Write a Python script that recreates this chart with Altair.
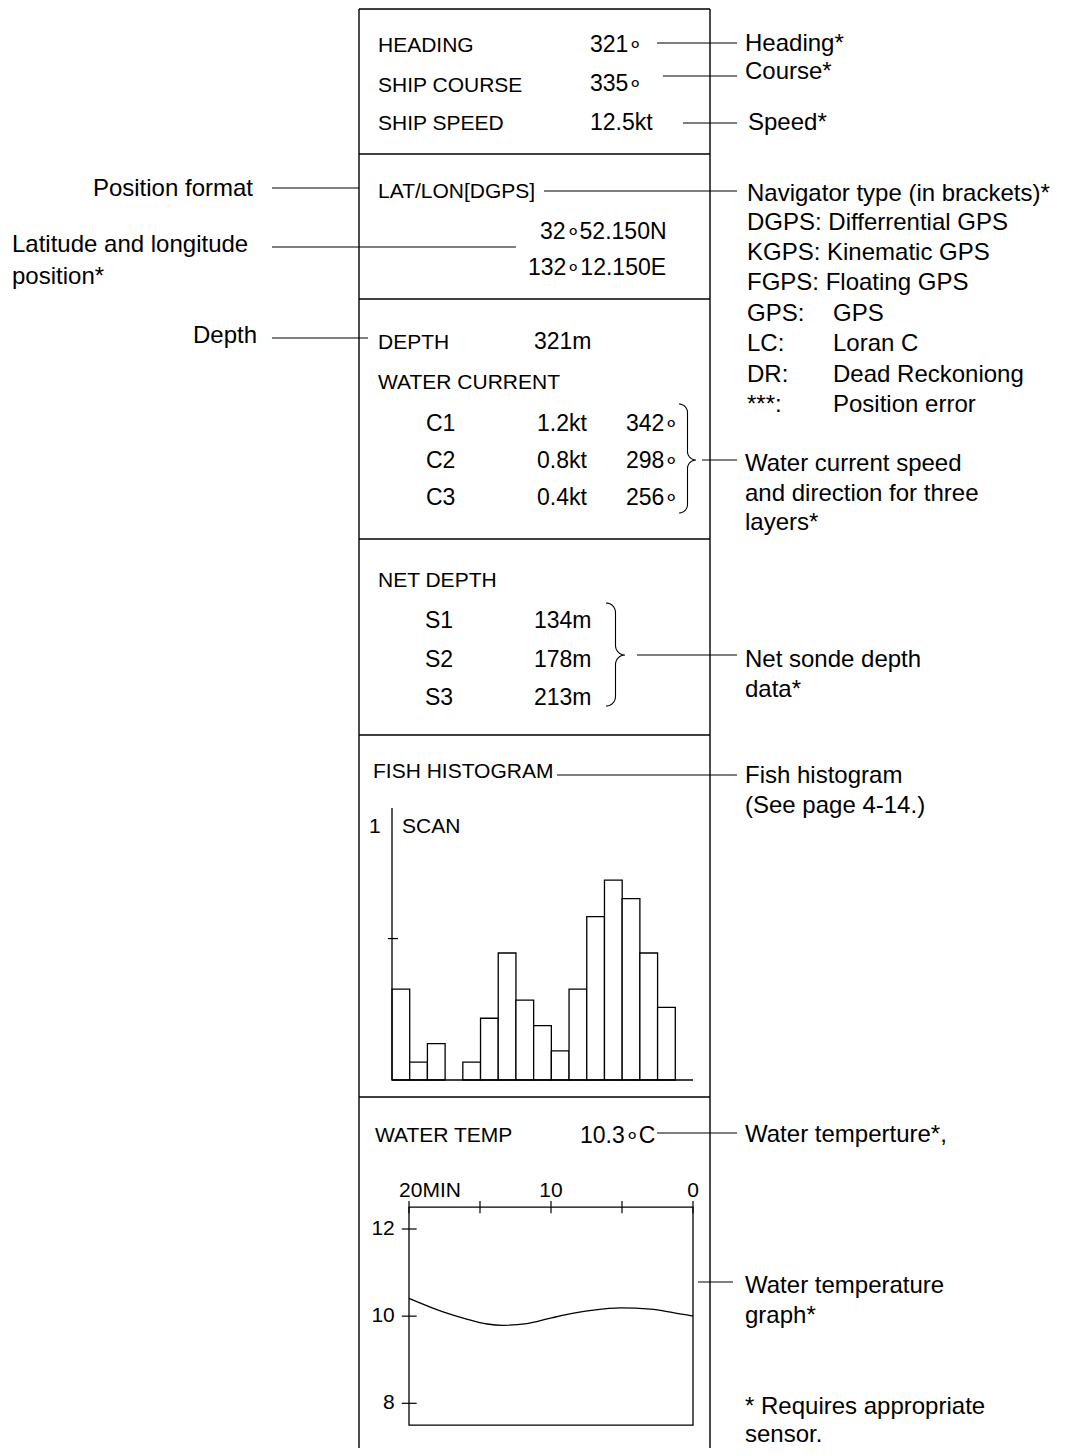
import math
import altair as alt
import pandas as pd

# ---------------- data ----------------
DEG = "∘"
heading_deg = 321
course_deg = 335
speed_kt = 12.5
lat_text = f"32{DEG}52.150N"
lon_text = f"132{DEG}12.150E"
nav_type = "DGPS"
depth_m = 321
current_layers = ["C1", "C2", "C3"]
current_speed_kt = [1.2, 0.8, 0.4]
current_dir_deg = [342, 298, 256]
net_sondes = ["S1", "S2", "S3"]
net_depth_m = [134, 178, 213]
hist_values = [0.334, 0.066, 0.134, 0.0, 0.066, 0.227, 0.467, 0.294,
               0.200, 0.107, 0.334, 0.601, 0.735, 0.667, 0.467, 0.267]
hist_tick = 0.52
water_temp_c = 10.3
temp_minutes_ago = [20, 17.6, 16, 14.5, 13.4, 11.7, 10.1, 8.2, 7.0, 5.1, 3.0, 1.4, 0]
temp_values = [10.41, 10.10, 9.94, 9.82, 9.79, 9.83, 9.95, 10.08, 10.14, 10.19, 10.16, 10.08, 10.00]
time_ticks = [20, 15, 10, 5, 0]
time_labels = ["20MIN", "10", "0"]
time_label_pos = [20.7, 10, 0]
temp_ticks = [12, 10, 8]

nav_types = [("DGPS:", "Differrential GPS"), ("KGPS:", "Kinematic GPS"),
             ("FGPS:", "Floating GPS"), ("GPS:", "GPS"), ("LC:", "Loran C"),
             ("DR:", "Dead Reckoniong"), ("***:", "Position error")]

# ---------------- layout ----------------
W, H = 1052, 1440
M = 8
INK = "#000000"
PANEL = "Liberation Sans, Arial"
NOTE = "Liberation Sans, Arial"
LBL = 21     # panel labels
VAL = 23     # panel values

PX = alt.Scale(domain=[M, M + W], range=[0, W], nice=False, zero=False)
PY = alt.Scale(domain=[M, M + H], range=[0, H], nice=False, zero=False)


def texts(rows, size, font, align="left", baseline="alphabetic"):
    df = pd.DataFrame(rows, columns=["t", "x", "y"])
    return alt.Chart(df).mark_text(align=align, baseline=baseline, fontSize=size,
                                   font=font, color=INK).encode(
        x=alt.X("x:Q", scale=PX, axis=None),
        y=alt.Y("y:Q", scale=PY, axis=None),
        text="t:N")


def rules(segs, width=1.3):
    df = pd.DataFrame(segs, columns=["x", "y", "x2", "y2"])
    return alt.Chart(df).mark_rule(strokeWidth=width, color=INK).encode(
        x=alt.X("x:Q", scale=PX, axis=None),
        y=alt.Y("y:Q", scale=PY, axis=None),
        x2="x2:Q", y2="y2:Q")


def brace_pts(bid, x0, top, bottom, mid, r, n=10):
    pts = []
    xm = x0 + r
    def arc(cx, cy, a0, a1):
        for k in range(n + 1):
            a = a0 + (a1 - a0) * k / n
            pts.append((cx + r * math.cos(a), cy + r * math.sin(a)))
    arc(x0, top + r, -math.pi / 2, 0)
    arc(xm + r, mid - r, math.pi, math.pi / 2)
    arc(xm + r, mid + r, -math.pi / 2, -math.pi)
    arc(x0, bottom - r, 0, math.pi / 2)
    return [(bid, i, x, y) for i, (x, y) in enumerate(pts)]


layers = []

# frame of the display
BOX_L, BOX_R = 359, 710
seps = [154, 299, 539, 735, 1097]
frame = [(BOX_L, 9, BOX_R, 9), (BOX_L, 9, BOX_L, 1460), (BOX_R, 9, BOX_R, 1460)]
frame += [(BOX_L, s, BOX_R, s) for s in seps]
layers.append(rules(frame, 1.4))

# leader lines
leaders = [(657, 43, 737, 43), (663, 76, 737, 76), (683, 123, 737, 123),
           (544, 191, 737, 191),
           (272, 188, BOX_L, 188), (272, 247, 516, 247), (272, 338, 368, 338),
           (702, 460, 737, 460), (637, 655, 737, 655), (557, 775, 737, 775),
           (657, 1133, 737, 1133), (698, 1282, 733, 1282)]
layers.append(rules(leaders, 1.2))

# braces
bp = brace_pts("c", 679, 404, 513, 460, 8.5) + brace_pts("s", 606, 603, 706, 655, 9.5)
bdf = pd.DataFrame(bp, columns=["id", "o", "x", "y"])
layers.append(alt.Chart(bdf).mark_line(color=INK, strokeWidth=1.1).encode(
    x=alt.X("x:Q", scale=PX, axis=None), y=alt.Y("y:Q", scale=PY, axis=None),
    order="o:Q", detail="id:N"))

# panel labels
labels = [("HEADING", 378, 52), ("SHIP COURSE", 378, 92), ("SHIP SPEED", 378, 130),
          (f"LAT/LON[{nav_type}]", 378, 198), ("DEPTH", 378, 349),
          ("WATER CURRENT", 378, 389), ("NET DEPTH", 378, 587),
          ("FISH HISTOGRAM", 373, 778), ("SCAN", 402, 833), ("WATER TEMP", 375, 1142),
          ("1", 369, 833)]
layers.append(texts(labels, LBL, PANEL))

vals = [(f"{heading_deg}{DEG}", 590, 52), (f"{course_deg}{DEG}", 590, 91),
        (f"{speed_kt}kt", 590, 130), (lat_text, 540, 239), (lon_text, 528, 275),
        (f"{depth_m}m", 534, 349), (f"{water_temp_c}{DEG}C", 580, 1143)]
for i, (c, s, d) in enumerate(zip(current_layers, current_speed_kt, current_dir_deg)):
    yb = [431, 468, 505][i]
    vals += [(c, 426, yb), (f"{s}kt", 537, yb), (f"{d}{DEG}", 626, yb)]
for i, (sn, dm) in enumerate(zip(net_sondes, net_depth_m)):
    yb = [628, 667, 705][i]
    vals += [(sn, 425, yb), (f"{dm}m", 534, yb)]
layers.append(texts(vals, VAL, PANEL))

# right-hand notes
notes = [("Heading*", 745, 51), ("Course*", 745, 79), ("Speed*", 748, 130),
         ("Navigator type (in brackets)*", 747, 201),
         ("Water current speed", 745, 471), ("and direction for three", 745, 501),
         ("layers*", 745, 530), ("Net sonde depth", 745, 667), ("data*", 745, 697),
         ("Fish histogram", 745, 783), ("(See page 4-14.)", 745, 813),
         ("Water temperture*,", 745, 1142), ("Water temperature", 745, 1293),
         ("graph*", 745, 1323), ("* Requires appropriate", 745, 1414),
         ("sensor.", 745, 1442),
         ("Latitude and longitude", 12, 252), ("position*", 12, 284)]
nav_base = [230, 260, 290, 321, 351, 382, 412]
for (k, v), yb in zip(nav_types, nav_base):
    if k in ("DGPS:", "KGPS:", "FGPS:"):
        notes.append((f"{k} {v}", 747, yb))
    else:
        notes.append((k, 747, yb))
        notes.append((v, 833, yb))
layers.append(texts(notes, 24, NOTE))
layers.append(texts([("Position format", 253, 196), ("Depth", 257, 343)], 24, NOTE, align="right"))

# ---------------- fish histogram (own scales) ----------------
HX = alt.Scale(domain=[0, 17], range=[392 - M, 693 - M], nice=False, zero=False)
HY = alt.Scale(domain=[0, 1], range=[1080 - M, 808 - M], nice=False, zero=False)
hdf = pd.DataFrame({"b0": list(range(len(hist_values))), "v": hist_values})
hdf["b1"] = hdf["b0"] + 1
hdf["base"] = 0.0
layers.append(alt.Chart(hdf).transform_filter("datum.v > 0").mark_rect(
    fill="white", stroke=INK, strokeWidth=1.3).encode(
    x=alt.X("b0:Q", scale=HX, axis=None), x2="b1:Q",
    y=alt.Y("v:Q", scale=HY, axis=None), y2="base:Q"))
hax = pd.DataFrame([(0, 0, 17, 0), (0, 0, 0, 1), (-0.23, hist_tick, 0.34, hist_tick)],
                   columns=["a", "b", "a2", "b2"])
layers.append(alt.Chart(hax).mark_rule(color=INK, strokeWidth=1.3).encode(
    x=alt.X("a:Q", scale=HX, axis=None), x2="a2:Q",
    y=alt.Y("b:Q", scale=HY, axis=None), y2="b2:Q"))

# ---------------- water temperature graph (own scales) ----------------
TX = alt.Scale(domain=[20, 0], range=[409 - M, 693 - M], nice=False, zero=False)
TY = alt.Scale(domain=[8, 12], range=[1403.3 - M, 1229 - M], nice=False, zero=False)
fr = pd.DataFrame([{"m0": 20, "m1": 0, "t0": 7.5, "t1": 12.5}])
layers.append(alt.Chart(fr).mark_rect(fillOpacity=0, stroke=INK, strokeWidth=1.3).encode(
    x=alt.X("m0:Q", scale=TX, axis=None), x2="m1:Q",
    y=alt.Y("t0:Q", scale=TY, axis=None), y2="t1:Q"))
tk = [(m, 12.5 - 0.14, m, 12.5 + 0.14) for m in time_ticks]
tk += [(20.51, t, 19.46, t) for t in temp_ticks]
tkdf = pd.DataFrame(tk, columns=["m0", "t0", "m1", "t1"])
layers.append(alt.Chart(tkdf).mark_rule(color=INK, strokeWidth=1.2).encode(
    x=alt.X("m0:Q", scale=TX, axis=None), x2="m1:Q",
    y=alt.Y("t0:Q", scale=TY, axis=None), y2="t1:Q"))
tdf = pd.DataFrame({"m": temp_minutes_ago, "t": temp_values})
layers.append(alt.Chart(tdf).mark_line(color=INK, strokeWidth=1.3, interpolate="monotone").encode(
    x=alt.X("m:Q", scale=TX, axis=None), y=alt.Y("t:Q", scale=TY, axis=None),
    order="m:Q"))
tl = pd.DataFrame({"txt": time_labels, "m": time_label_pos, "t": [12.73] * 3,
                   "al": ["left", "center", "center"]})
layers.append(alt.Chart(tl[tl.al == "left"]).mark_text(
    align="left", baseline="alphabetic", fontSize=21, font=PANEL, color=INK).encode(
    x=alt.X("m:Q", scale=TX, axis=None), y=alt.Y("t:Q", scale=TY, axis=None), text="txt:N"))
layers.append(alt.Chart(tl[tl.al == "center"]).mark_text(
    align="center", baseline="alphabetic", fontSize=21, font=PANEL, color=INK).encode(
    x=alt.X("m:Q", scale=TX, axis=None), y=alt.Y("t:Q", scale=TY, axis=None), text="txt:N"))
yl = pd.DataFrame({"txt": [str(t) for t in temp_ticks], "m": [21.0] * 3, "t": temp_ticks})
layers.append(alt.Chart(yl).mark_text(
    align="right", baseline="middle", fontSize=21, font=PANEL, color=INK).encode(
    x=alt.X("m:Q", scale=TX, axis=None), y=alt.Y("t:Q", scale=TY, axis=None), text="txt:N"))

chart = alt.layer(*layers).resolve_scale(x="independent", y="independent").properties(
    width=W, height=H, autosize=alt.AutoSizeParams(type="none"), padding=0,
    background="white").configure_view(stroke=None)

chart.save("out.html", embed_options={"renderer": "svg", "actions": False})
